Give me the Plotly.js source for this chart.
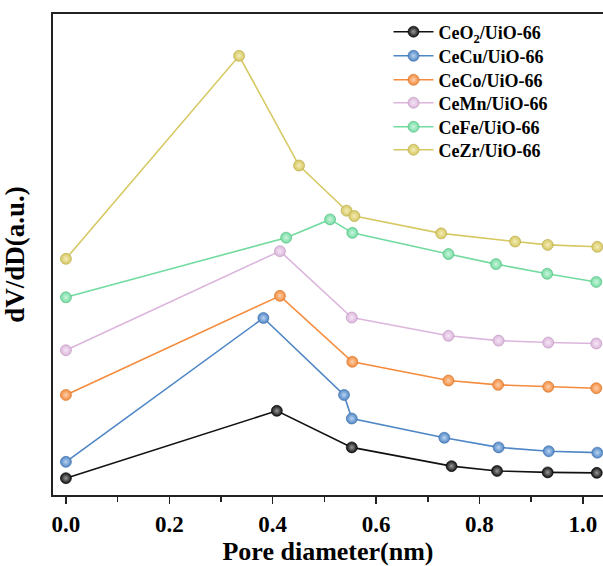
<!DOCTYPE html>
<html>
<head>
<meta charset="utf-8">
<script src="https://cdn.plot.ly/plotly-3.0.1.min.js"></script>
<style>html,body{margin:0;padding:0;background:#fff;}#chart{width:603px;height:566px;}</style>
</head>
<body>
<div id="chart"></div>
<script>
const seriesNames = ["CeO<sub>2</sub>/UiO-66", "CeCu/UiO-66", "CeCo/UiO-66", "CeMn/UiO-66", "CeFe/UiO-66", "CeZr/UiO-66"];

const x_CeO2 = [0, 0.408, 0.553, 0.746, 0.834, 0.932, 1.027];
const y_CeO2 = [0.35, 1.75, 0.99, 0.60, 0.50, 0.47, 0.46];

const x_CeCu = [0, 0.382, 0.538, 0.553, 0.732, 0.837, 0.934, 1.028];
const y_CeCu = [0.69, 3.68, 2.08, 1.59, 1.19, 0.99, 0.91, 0.88];

const x_CeCo = [0, 0.414, 0.554, 0.740, 0.836, 0.933, 1.026];
const y_CeCo = [2.08, 4.14, 2.77, 2.38, 2.29, 2.25, 2.22];

const x_CeMn = [0, 0.414, 0.553, 0.740, 0.837, 0.933, 1.026];
const y_CeMn = [3.01, 5.07, 3.69, 3.31, 3.21, 3.17, 3.15];

const x_CeFe = [0, 0.426, 0.511, 0.554, 0.740, 0.832, 0.931, 1.026];
const y_CeFe = [4.11, 5.35, 5.73, 5.45, 5.01, 4.80, 4.60, 4.43];

const x_CeZr = [0, 0.335, 0.451, 0.543, 0.558, 0.726, 0.869, 0.932, 1.028];
const y_CeZr = [4.91, 9.13, 6.85, 5.91, 5.80, 5.44, 5.27, 5.20, 5.16];

const xTickVals = [0, 0.2, 0.4, 0.6, 0.8, 1.0];
const xTickText = ["0.0", "0.2", "0.4", "0.6", "0.8", "1.0"];

const xs = [x_CeO2, x_CeCu, x_CeCo, x_CeMn, x_CeFe, x_CeZr];
const ys = [y_CeO2, y_CeCu, y_CeCo, y_CeMn, y_CeFe, y_CeZr];
const colors = ["#111111", "#4f86c6", "#f58b3c", "#dcb6dc", "#72dba0", "#d6c862"];
const centers = ["#9a9a9a", "#b9d3f0", "#fcd0ad", "#f5e6f5", "#cdf5de", "#f3ecb8"];
const edges = ["#000000", "#3b6aa3", "#d06e24", "#b893b8", "#4fb87d", "#b3a540"];

const legendIds = ["legend", "legend2", "legend3", "legend4", "legend5", "legend6"];
const legendRowY = [0.9626, 0.9126, 0.8627, 0.8149, 0.765, 0.7172];

const traces = xs.map((xv, i) => ({
  x: xv,
  y: ys[i],
  name: seriesNames[i],
  legend: legendIds[i],
  type: "scatter",
  mode: "lines+markers",
  line: {color: colors[i], width: 1.6},
  marker: {
    size: 11,
    color: colors[i],
    line: {color: edges[i], width: 0.6},
    gradient: {type: "radial", color: centers[i]}
  }
}));

const serif = "Liberation Serif, Times New Roman, serif";

const layout = {
  width: 603,
  height: 566,
  margin: {l: 53, r: 0, t: 14, b: 71},
  paper_bgcolor: "#ffffff",
  plot_bgcolor: "#ffffff",
  showlegend: true,
  xaxis: {
    range: [-0.025, 1.039],
    tickvals: xTickVals,
    ticktext: xTickText,
    ticks: "outside",
    ticklen: 7,
    tickwidth: 1.5,
    tickcolor: "#222",
    minor: {dtick: 0.1, ticks: "outside", ticklen: 5, tickwidth: 1.5, tickcolor: "#222", showgrid: false},
    showline: true,
    linecolor: "#222",
    linewidth: 2,
    mirror: true,
    showgrid: false,
    zeroline: false,
    tickfont: {family: serif, size: 23, color: "#000", weight: "bold"},
    title: {text: "Pore diameter(nm)", font: {family: serif, size: 26, color: "#000", weight: "bold"}, standoff: 8}
  },
  yaxis: {
    range: [0, 10],
    showticklabels: false,
    ticks: "",
    showline: true,
    linecolor: "#222",
    linewidth: 2,
    showgrid: false,
    zeroline: false,
    title: {text: "dV/dD(a.u.)", font: {family: serif, size: 27, color: "#000", weight: "bold"}, standoff: 20}
  }
};

legendIds.forEach((id, i) => {
  layout[id] = {
    x: 0.61, y: legendRowY[i], xanchor: "left", yanchor: "middle",
    bgcolor: "rgba(0,0,0,0)",
    font: {family: serif, size: 18, color: "#000", weight: "bold"},
    itemwidth: 40
  };
});

Plotly.newPlot("chart", traces, layout, {displayModeBar: false, staticPlot: true});
</script>
</body>
</html>
